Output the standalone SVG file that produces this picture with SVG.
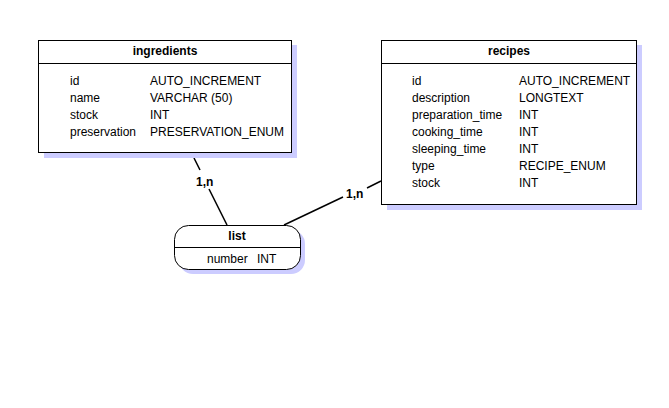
<svg xmlns="http://www.w3.org/2000/svg" width="669" height="408" viewBox="0 0 669 408">
<style>
text{font-family:"Liberation Sans",Arial,sans-serif;font-size:12px;fill:#000}
.h{font-weight:bold;text-anchor:middle}
.b{font-weight:bold}
.box{fill:#fff;stroke:#000;stroke-width:1}
.sh{fill:#ccccff;stroke:none}
.ln{stroke:#000;stroke-width:1}
.c{stroke:#000;stroke-width:1.5;fill:none}
</style>
<rect width="669" height="408" fill="#fff"/>
<g id="connectors">
<line class="c" x1="194" y1="158" x2="200" y2="170"/>
<line class="c" x1="209" y1="189" x2="227" y2="225"/>
<text class="b" x="196" y="186">1,n</text>
<line class="c" x1="284" y1="225" x2="343" y2="197"/>
<line class="c" x1="367" y1="188" x2="381" y2="181"/>
<text class="b" x="346" y="198">1,n</text>
</g>
<g id="ingredients">
<rect class="sh" x="44" y="45" width="253" height="113"/>
<rect class="box" x="38.5" y="40.5" width="253" height="112"/>
<line class="ln" x1="38.5" y1="63.5" x2="291.5" y2="63.5"/>
<text class="h" x="165" y="55">ingredients</text>
<text x="70" y="85">id</text><text x="150" y="85">AUTO_INCREMENT</text>
<text x="70" y="102">name</text><text x="150" y="102">VARCHAR (50)</text>
<text x="70" y="119">stock</text><text x="150" y="119">INT</text>
<text x="70" y="136">preservation</text><text x="150" y="136">PRESERVATION_ENUM</text>
</g>
<g id="recipes">
<rect class="sh" x="387" y="45" width="255" height="165"/>
<rect class="box" x="381.5" y="40.5" width="255" height="164"/>
<line class="ln" x1="381.5" y1="63.5" x2="636.5" y2="63.5"/>
<text class="h" x="509" y="55">recipes</text>
<text x="412" y="85">id</text><text x="519" y="85">AUTO_INCREMENT</text>
<text x="412" y="102">description</text><text x="519" y="102">LONGTEXT</text>
<text x="412" y="119">preparation_time</text><text x="519" y="119">INT</text>
<text x="412" y="136">cooking_time</text><text x="519" y="136">INT</text>
<text x="412" y="153">sleeping_time</text><text x="519" y="153">INT</text>
<text x="412" y="170">type</text><text x="519" y="170">RECIPE_ENUM</text>
<text x="412" y="187">stock</text><text x="519" y="187">INT</text>
</g>
<g id="list">
<rect class="sh" x="179" y="230" width="126" height="44" rx="14"/>
<rect class="box" x="174.5" y="225.5" width="126" height="44" rx="14"/>
<line class="ln" x1="174.5" y1="247.5" x2="300.5" y2="247.5"/>
<text class="h" x="237" y="240">list</text>
<text x="207" y="263">number</text><text x="257" y="263">INT</text>
</g>
</svg>
